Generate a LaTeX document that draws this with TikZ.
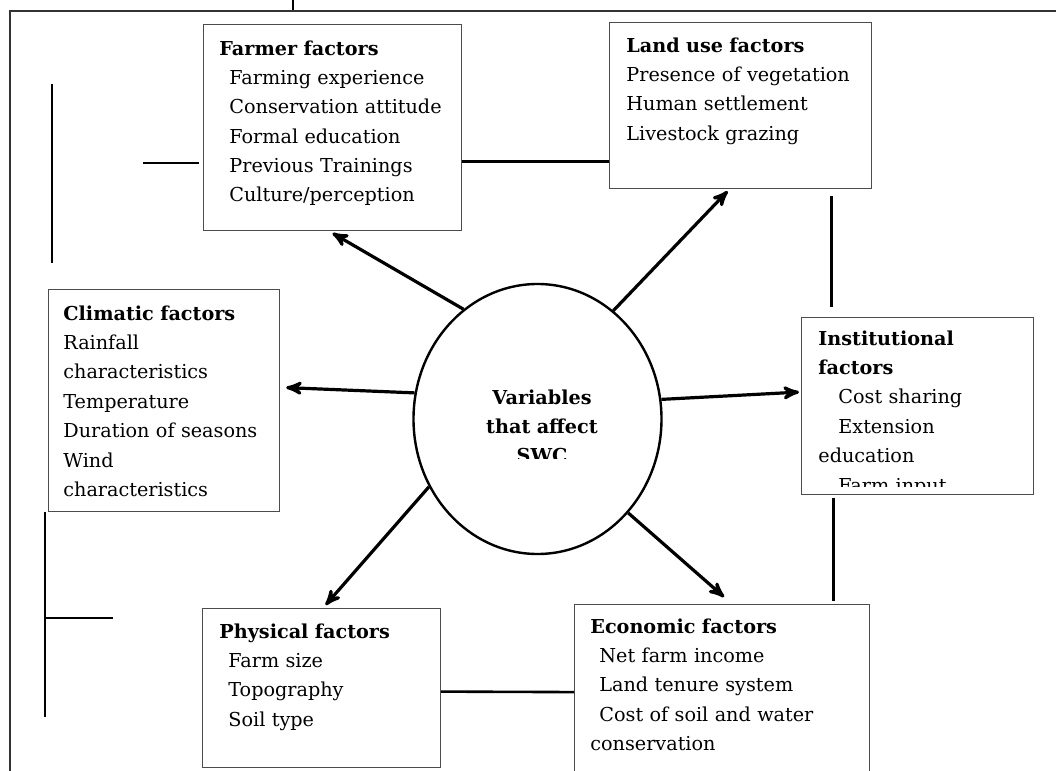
\documentclass[tikz,border=0pt]{standalone}
\usepackage{fontspec}
\setmainfont{DejaVu Serif}
\usetikzlibrary{arrows}
\usetikzlibrary{shapes.geometric}

\tikzset{
  factor/.style={draw=black!70, line width=.6pt, anchor=north west, inner sep=0pt},
  factortext/.style={anchor=base west, align=left, text width=170pt, inner sep=0pt,
    font=\fontsize{9.6}{14.7}\selectfont},
  link/.style={black, line width=1.3pt},
  effect/.style={black, line width=1.6pt, ->, >=stealth'},
}

\begin{document}
\begin{tikzpicture}[x=.5pt, y=-.5pt]
\useasboundingbox (0,0) rectangle (1056,771);
\clip (0,0) rectangle (1056,771);
% frame of the page
\draw[black!80, line width=.8pt] (10,771) -- (10,11) -- (1056,11);
\draw[line width=1.3pt] (293,0) -- (293,10);

% the six groups of factors
\node[factor, minimum width=129pt, minimum height=103pt] (farmer) at (203,24) {};
\node[factortext] (farmer-txt) at ([xshift=8pt,yshift=-15.5pt]farmer.north west)
 {\textbf{Farmer factors}\\ \hspace*{5pt}Farming experience\\ \hspace*{5pt}Conservation attitude\\
  \hspace*{5pt}Formal education\\ \hspace*{5pt}Previous Trainings\\ \hspace*{5pt}Culture/perception};
\node[factor, minimum width=131pt, minimum height=83pt] (landuse) at (609,22) {};
\node[factortext] (landuse-txt) at ([xshift=8.5pt,yshift=-15pt]landuse.north west)
 {\textbf{Land use factors}\\ Presence of vegetation\\ Human settlement\\ Livestock grazing};
\node[factor, minimum width=115.5pt, minimum height=111pt] (climatic) at (48,289) {};
\node[factortext] (climatic-txt) at ([xshift=7.5pt,yshift=-15.5pt]climatic.north west)
 {\textbf{Climatic factors}\\ Rainfall\\ characteristics\\ Temperature\\ Duration of seasons\\
  Wind\\ characteristics};
\node[factor, minimum width=116pt, minimum height=88.5pt] (inst) at (801,317) {};
\begin{scope}
\clip (795,300) rectangle (1040,486);
\node[factortext] (inst-txt) at ([xshift=8.5pt,yshift=-14pt]inst.north west)
 {\textbf{Institutional}\\ \textbf{factors}\\ \hspace*{10pt}Cost sharing\\ \hspace*{10pt}Extension\\
  education\\ \hspace*{10pt}Farm input};
\end{scope}
\node[factor, minimum width=119pt, minimum height=79.5pt] (physical) at (202,608) {};
\node[factortext] (physical-txt) at ([xshift=8.5pt,yshift=-15pt]physical.north west)
 {\textbf{Physical factors}\\ \hspace*{4.5pt}Farm size\\ \hspace*{4.5pt}Topography\\ \hspace*{4.5pt}Soil type};
\node[factor, minimum width=147.5pt, minimum height=87.5pt] (econ) at (574,604) {};
\node[factortext] (econ-txt) at ([xshift=8pt,yshift=-14.5pt]econ.north west)
 {\textbf{Economic factors}\\ \hspace*{4.5pt}Net farm income\\ \hspace*{4.5pt}Land tenure system\\
  \hspace*{4.5pt}Cost of soil and water\\ conservation};

% centre
\node[ellipse, draw, line width=1.2pt, minimum width=124pt, minimum height=135pt] (swc) at (537.5,419) {};
\begin{scope}
\clip (400,280) rectangle (680,458);
\node[anchor=base, align=center, text width=100pt, inner sep=0pt,
  font=\fontsize{9.6}{14.7}\selectfont\bfseries] (swc-txt) at (542,404) {Variables\\ that affect\\ SWC};
\end{scope}

% arrows out of the centre
\draw[effect] (swc.124) -- ([yshift=-1pt]farmer.south);
\draw[effect] (swc.55) -- ([xshift=-6.5pt,yshift=-1pt]landuse.south);
\draw[effect] (swc.168) -- ([xshift=3pt,yshift=6.5pt]climatic.east);
\draw[effect] (swc.9.5) -- ([xshift=-1pt,yshift=7pt]inst.west);
\draw[effect] (swc.212) -- ([xshift=2pt,yshift=1.5pt]physical.north);
\draw[effect] (swc.314.5) -- ([xshift=1pt,yshift=3.5pt]econ.north);

% plain links
\draw[link] ([yshift=-17pt]farmer.east) -- ([yshift=-28pt]landuse.west);
\draw[link] ([xshift=45.5pt,yshift=-3.5pt]landuse.south) -- ([xshift=-43pt,yshift=5pt]inst.north);
\draw[link] ([xshift=-42pt,yshift=-1.5pt]inst.south) -- ([xshift=55.75pt,yshift=1.5pt]econ.north);
\draw[link] ([yshift=-1.75pt]physical.east) -- (econ.west);
\draw[link] (52,84) -- (52,263);
\draw[link] (143,163) -- (199,163);
\draw[link] (45,512) -- (45,717);
\draw[link] (45,618) -- (113,618);
\end{tikzpicture}
\end{document}
